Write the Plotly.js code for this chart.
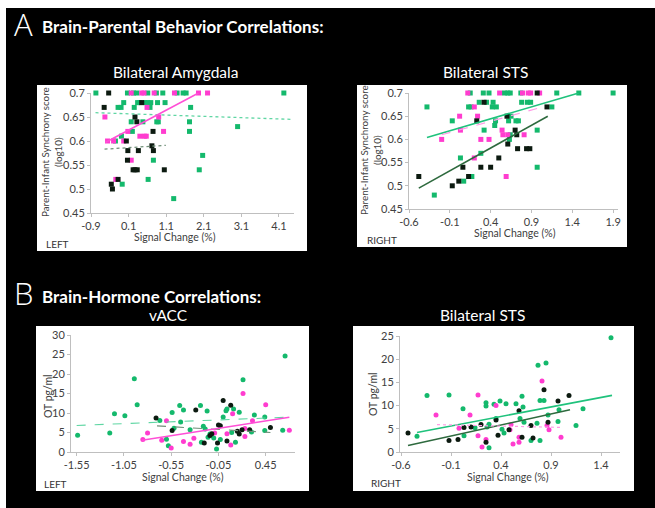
<!DOCTYPE html>
<html><head><meta charset="utf-8">
<script src="https://cdn.plot.ly/plotly-3.0.1.min.js"></script>
<style>html,body{margin:0;padding:0;background:#000}#c{width:655px;height:508px}</style>
</head><body><div id="c"></div>
<script>
// ---------- DATA ----------
// Panel A left: Bilateral Amygdala (x: signal change %, y: log10 synchrony)
const aL_green_x = [-0.77,0.07,0.23,0.32,0.61,0.84,1.01,1.39,1.55,1.63,4.23, -0.03,0.34,0.40,0.54,0.61,0.69,0.87,1.07, -0.18,-0.10,0.25,0.67,1.75, 0.17,0.48,0.85,0.89,1.72, 3.0, 0.20,1.72, -0.09, -0.25, 2.07, 0.76, 1.98, 0.62, -0.07, 1.30];
const aL_green_y = [0.70,0.70,0.70,0.70,0.70,0.70,0.70,0.70,0.70,0.70,0.70, 0.68,0.68,0.68,0.68,0.68,0.68,0.68,0.68, 0.67,0.67,0.67,0.67,0.67, 0.64,0.64,0.64,0.64,0.64, 0.63, 0.62,0.62, 0.61, 0.60, 0.57, 0.56, 0.54, 0.52, 0.51, 0.48];
const aL_mag_x = [0.17,0.45,0.51,0.78,1.32,1.96,2.20, 0.59, -0.53,0.90, 0.08,1.03, 0.40,0.52,0.57, -0.46,-0.30,-0.03, 0.17, -0.24];
const aL_mag_y = [0.70,0.70,0.70,0.70,0.70,0.70,0.70, 0.67, 0.65,0.65, 0.62,0.62, 0.61,0.61,0.61, 0.60,0.60,0.60, 0.56, 0.52];
const aL_blk_x = [-0.43, 0.45, -0.55, 0.27, 0.32, 0.75, 0.04, 0.72, 0.08,0.36,0.76, 0.07, 0.22,0.27,0.33,1.05, -0.18, -0.36, -0.33];
const aL_blk_y = [0.70, 0.68, 0.67, 0.65, 0.64, 0.62, 0.60, 0.59, 0.58,0.58,0.58, 0.56, 0.54,0.54,0.54,0.54, 0.52, 0.51, 0.50];
const aL_trend_green_x = [-0.78, 4.48], aL_trend_green_y = [0.659, 0.645];
const aL_trend_blk_x = [-0.54, 1.09], aL_trend_blk_y = [0.583, 0.591];
const aL_trend_mag_x = [-0.52, 1.96], aL_trend_mag_y = [0.597, 0.700];

// Panel A right: Bilateral STS
const aR_green_x = [0.15,0.31,0.38,0.57,0.61,0.64,0.77,1.21,1.48,1.90, 0.26,0.35,0.43,0.78,0.85,0.89, -0.38,0.13,0.16,0.42,0.47,1.15, 0.65, -0.07,0.46,0.62,0.71,0.74, 0.45, 0.32,0.97, 0.64, 0.63, 0.28, 0.03, 0.97, 0.17, 0.07, -0.29];
const aR_green_y = [0.70,0.70,0.70,0.70,0.70,0.70,0.70,0.70,0.70,0.70, 0.68,0.68,0.68,0.68,0.68,0.68, 0.67,0.67,0.67,0.67,0.67,0.67, 0.65, 0.64,0.64,0.64,0.64,0.64, 0.63, 0.62,0.62, 0.61, 0.60, 0.57, 0.56, 0.54, 0.52, 0.51, 0.48];
const aR_mag_x = [0.12,0.51,0.79,0.86,0.89,1.00, 0.20, 0.02,0.24, 0.03,0.54, 0.55,0.61,0.81, -0.20,0.28,0.38, 0.20, 0.59];
const aR_mag_y = [0.70,0.70,0.70,0.70,0.70,0.70, 0.67, 0.65,0.65, 0.62,0.62, 0.61,0.61,0.61, 0.60,0.60,0.60, 0.56, 0.52];
const aR_blk_x = [0.97, 0.32, 1.09, 0.60, 0.23, 0.70, 0.72, 0.61, 0.73,0.84,0.88, 0.50, 0.06,0.28,0.40, -0.48,0.13, 0.01, -0.07];
const aR_blk_y = [0.70, 0.68, 0.67, 0.65, 0.64, 0.62, 0.61, 0.59, 0.58,0.58,0.58, 0.56, 0.54,0.54,0.54, 0.52,0.52, 0.51, 0.50];
const aR_trend_green_x = [-0.38, 1.48], aR_trend_green_y = [0.604, 0.700];
const aR_trend_mag_x = [-0.20, 1.02], aR_trend_mag_y = [0.610, 0.669];
const aR_trend_blk_x = [-0.48, 1.10], aR_trend_blk_y = [0.495, 0.650];

// Panel B left: vACC (y: OT pg/ml)
const bL_green_x = [-1.54,-1.20,-1.15,-1.04,-0.94,-0.91,-0.67,-0.60,-0.58,-0.54,-0.52,-0.46,-0.45,-0.42,-0.35,-0.24,-0.23,-0.21,-0.19,-0.17,-0.16,-0.14,-0.10,-0.07,-0.03,0.00,0.03,0.04,0.09,0.11,0.13,0.17,0.21,0.30,0.33,0.44,0.44,0.655,0.63];
const bL_green_y = [4.3,4.9,9.8,9.3,18.8,12.1,8.1,3.3,1.6,10.1,6.1,11.9,7.7,10.8,5.7,11.9,2.5,6.6,5.9,10.5,3.8,4.6,3.6,0.8,3.2,9.0,10.6,11.0,5.0,11.0,2.5,10.2,18.5,5.1,9.5,9.0,5.5,24.6,5.6];
const bL_mag_x = [-0.85,-0.80,-0.65,-0.60,-0.55,-0.42,-0.35,-0.31,-0.09,0.04,0.08,0.10,0.21,0.23,0.23,0.31,0.45,0.70];
const bL_mag_y = [3.2,4.9,3.0,8.0,1.0,2.7,2.0,3.5,4.9,4.7,1.8,9.8,15.0,4.0,6.0,8.0,12.1,5.6];
const bL_blk_x = [-0.71,-0.54,-0.29,-0.20,-0.14,-0.12,-0.06,-0.05,-0.03,0.00,0.04,0.08,0.15,0.17,0.20,0.28,0.50];
const bL_blk_y = [8.7,5.5,10.8,2.3,4.2,4.7,2.3,6.9,6.7,13.2,2.8,12.0,5.3,4.6,5.7,5.7,6.3];
const bL_trend_green_x = [-1.55, 0.66], bL_trend_green_y = [6.8, 8.9];
const bL_trend_blk_x = [-0.70, 0.50], bL_trend_blk_y = [6.7, 5.0];
const bL_trend_mag_x = [-0.86, 0.70], bL_trend_mag_y = [3.0, 8.9];

// Panel B right: Bilateral STS
const bR_green_x = [-0.44,-0.34,-0.12,0.02,0.03,0.14,0.25,0.25,0.28,0.28,0.33,0.35,0.26,0.39,0.41,0.43,0.45,0.55,0.59,0.61,0.62,0.63,0.70,0.76,0.77,0.79,0.79,0.83,0.85,0.87,0.97,0.98,1.15,1.22,1.50];
const bR_green_y = [3.4,12.2,12.3,9.3,3.5,5.2,10.6,9.9,6.0,0.9,10.3,7.2,5.4,11.0,4.9,4.1,10.4,10.4,7.2,12.0,9.7,6.4,2.5,6.2,18.7,11.1,2.5,11.1,19.2,8.0,6.6,9.1,5.7,9.3,24.6];
const bR_mag_x = [-0.25,-0.02,0.09,0.17,0.17,0.21,0.25,0.35,0.49,0.50,0.52,0.58,0.58,0.81,0.86,0.88,1.00];
const bR_mag_y = [8.0,5.1,8.0,12.3,3.5,1.1,2.7,10.0,4.8,5.9,1.7,3.2,2.1,15.3,5.7,4.8,3.2];
const bR_blk_x = [-0.53,-0.12,-0.03,0.03,0.10,0.20,0.25,0.35,0.37,0.48,0.58,0.61,0.70,0.72,0.83,0.87,0.97,1.08];
const bR_blk_y = [4.1,2.5,2.7,5.3,5.4,5.9,2.1,6.9,3.6,4.8,8.9,3.2,5.7,3.0,13.4,6.4,11.0,12.2];
const bR_trend_green_x = [-0.44, 1.51], bR_trend_green_y = [4.2, 12.2];
const bR_trend_blk_x = [-0.53, 1.09], bR_trend_blk_y = [1.4, 9.1];
const bR_trend_mag_x = [-0.24, 0.99], bR_trend_mag_y = [5.9, 5.3];

// Tick labels
const aL_xticks = [-0.9, 0.1, 1.1, 2.1, 3.1, 4.1];
const aR_xticks = [-0.6, -0.1, 0.4, 0.9, 1.4, 1.9];
const aY_ticks = [0.45, 0.5, 0.55, 0.6, 0.65, 0.7];
const aY_ticktext = ['0.45', '0.5', '0.55', '0.6', '0.65', '0.7'];
const bL_xticks = [-1.55, -1.05, -0.55, -0.05, 0.45];
const bR_xticks = [-0.6, -0.1, 0.4, 0.9, 1.4];
const bL_yticks = [0, 5, 10, 15, 20, 25, 30];
const bR_yticks = [0, 5, 10, 15, 20, 25];

// ---------- STYLE ----------
const W = 655, H = 508;
const px = x => x / W, py = y => 1 - y / H;
const GREEN = '#14b96c', MAG = '#ff3ccf', BLK = '#0c1a10';
const TGREEN = '#1fc27c', TDARK = '#2e6a3e', TMAG = '#ff4fd6', TGREEN_L = '#5fd6a3', TDARK_L = '#6f8f78';
const FONT = 'Lato, "Open Sans", sans-serif';

function pts(x, y, color, sym, size, xa, ya) {
  return {x: x, y: y, type: 'scatter', mode: 'markers', xaxis: xa, yaxis: ya, cliponaxis: false,
    marker: {color: color, symbol: sym, size: size, line: {width: 0}}, hoverinfo: 'skip'};
}
function line(x, y, color, dash, width, xa, ya) {
  return {x: x, y: y, type: 'scatter', mode: 'lines', xaxis: xa, yaxis: ya, cliponaxis: false,
    line: {color: color, dash: dash, width: width}, hoverinfo: 'skip'};
}

const traces = [
  pts(aL_green_x, aL_green_y, GREEN, 'square', 5, 'x', 'y'),
  pts(aL_mag_x, aL_mag_y, MAG, 'square', 5, 'x', 'y'),
  pts(aL_blk_x, aL_blk_y, BLK, 'square', 5, 'x', 'y'),
  line(aL_trend_green_x, aL_trend_green_y, TGREEN_L, 'dot', 1.3, 'x', 'y'),
  line(aL_trend_blk_x, aL_trend_blk_y, TDARK_L, 'dot', 1.3, 'x', 'y'),
  line(aL_trend_mag_x, aL_trend_mag_y, TMAG, 'solid', 1.6, 'x', 'y'),

  pts(aR_green_x, aR_green_y, GREEN, 'square', 5, 'x2', 'y2'),
  pts(aR_mag_x, aR_mag_y, MAG, 'square', 5, 'x2', 'y2'),
  pts(aR_blk_x, aR_blk_y, BLK, 'square', 5, 'x2', 'y2'),
  line(aR_trend_green_x, aR_trend_green_y, TGREEN, 'solid', 1.6, 'x2', 'y2'),
  line(aR_trend_mag_x, aR_trend_mag_y, '#ff9be6', 'dash', 1.2, 'x2', 'y2'),
  line(aR_trend_blk_x, aR_trend_blk_y, TDARK, 'solid', 1.6, 'x2', 'y2'),

  pts(bL_green_x, bL_green_y, GREEN, 'circle', 5, 'x3', 'y3'),
  pts(bL_mag_x, bL_mag_y, MAG, 'circle', 5, 'x3', 'y3'),
  pts(bL_blk_x, bL_blk_y, BLK, 'circle', 5, 'x3', 'y3'),
  line(bL_trend_green_x, bL_trend_green_y, TGREEN_L, 'dash', 1.1, 'x3', 'y3'),
  line(bL_trend_blk_x, bL_trend_blk_y, TDARK_L, 'dash', 1.1, 'x3', 'y3'),
  line(bL_trend_mag_x, bL_trend_mag_y, TMAG, 'solid', 1.6, 'x3', 'y3'),

  pts(bR_green_x, bR_green_y, GREEN, 'circle', 5, 'x4', 'y4'),
  pts(bR_mag_x, bR_mag_y, MAG, 'circle', 5, 'x4', 'y4'),
  pts(bR_blk_x, bR_blk_y, BLK, 'circle', 5, 'x4', 'y4'),
  line(bR_trend_green_x, bR_trend_green_y, TGREEN, 'solid', 1.6, 'x4', 'y4'),
  line(bR_trend_blk_x, bR_trend_blk_y, TDARK, 'solid', 1.6, 'x4', 'y4'),
  line(bR_trend_mag_x, bR_trend_mag_y, '#ff9be6', 'dot', 1.2, 'x4', 'y4')
];

const axBase = {showline: true, linecolor: '#bfbfbf', linewidth: 1, ticks: 'outside', ticklen: 3,
  tickcolor: '#bfbfbf', showgrid: false, zeroline: false, fixedrange: true,
  tickfont: {family: FONT, size: 11, color: '#404040'}};
function ax(extra) { return Object.assign({}, axBase, extra); }

const layout = {
  width: W, height: H, margin: {l: 0, r: 0, t: 0, b: 0},
  paper_bgcolor: '#000000', plot_bgcolor: '#ffffff', showlegend: false,
  xaxis: ax({domain: [px(91), px(294)], range: [-0.9, 4.5], anchor: 'y', tickvals: aL_xticks, ticktext: aL_xticks.map(String)}),
  yaxis: ax({domain: [py(213), py(93)], range: [0.45, 0.7], anchor: 'x', tickvals: aY_ticks, ticktext: aY_ticktext}),
  xaxis2: ax({domain: [px(409), px(618)], range: [-0.6, 1.96], anchor: 'y2', tickvals: aR_xticks, ticktext: aR_xticks.map(String)}),
  yaxis2: ax({domain: [py(209), py(93)], range: [0.45, 0.7], anchor: 'x2', tickvals: aY_ticks, ticktext: aY_ticktext}),
  xaxis3: ax({domain: [px(71), px(295)], range: [-1.61, 0.76], anchor: 'y3', tickvals: bL_xticks, ticktext: bL_xticks.map(String)}),
  yaxis3: ax({domain: [py(452), py(335)], range: [0, 30], anchor: 'x3', tickvals: bL_yticks}),
  xaxis4: ax({domain: [px(400), px(620)], range: [-0.61, 1.59], anchor: 'y4', tickvals: bR_xticks, ticktext: bR_xticks.map(String)}),
  yaxis4: ax({domain: [py(452), py(336)], range: [0, 25], anchor: 'x4', tickvals: bR_yticks}),
  shapes: [
    {type: 'rect', xref: 'paper', yref: 'paper', x0: 0, x1: 1, y0: py(8), y1: 1, fillcolor: '#ffffff', line: {width: 0}, layer: 'below'},
    {type: 'rect', xref: 'paper', yref: 'paper', x0: 0, x1: px(6), y0: 0, y1: 1, fillcolor: '#ffffff', line: {width: 0}, layer: 'below'},
    {type: 'rect', xref: 'paper', yref: 'paper', x0: px(37), x1: px(307), y0: py(251), y1: py(85), fillcolor: '#ffffff', line: {width: 0}, layer: 'below'},
    {type: 'rect', xref: 'paper', yref: 'paper', x0: px(357), x1: px(627), y0: py(247), y1: py(85), fillcolor: '#ffffff', line: {width: 0}, layer: 'below'},
    {type: 'rect', xref: 'paper', yref: 'paper', x0: px(36), x1: px(309), y0: py(491), y1: py(326), fillcolor: '#ffffff', line: {width: 0}, layer: 'below'},
    {type: 'rect', xref: 'paper', yref: 'paper', x0: px(353), x1: px(634), y0: py(491), y1: py(326), fillcolor: '#ffffff', line: {width: 0}, layer: 'below'}
  ],
  annotations: []
};

function txt(t, x, y, size, color, opts) {
  return Object.assign({text: t, x: px(x), y: py(y), xref: 'paper', yref: 'paper', showarrow: false,
    font: {family: FONT, size: size, color: color}, xanchor: 'center', yanchor: 'middle'}, opts || {});
}
const G = '#404040';
const bigLetter = {xanchor: 'left', font: {family: '"Open Sans", sans-serif', size: 31, color: '#fff', weight: 300}};
layout.annotations.push(
  txt('A', 12, 24, 31, '#ffffff', bigLetter),
  txt('<b>Brain-Parental Behavior Correlations:</b>', 40, 26, 17, '#ffffff', {xanchor: 'left'}),
  txt('Bilateral Amygdala', 175, 72, 15.5, '#ffffff'),
  txt('Bilateral STS', 485, 72, 15.5, '#ffffff'),
  txt('B', 12, 293, 31, '#ffffff', bigLetter),
  txt('<b>Brain-Hormone Correlations:</b>', 40, 296, 17, '#ffffff', {xanchor: 'left'}),
  txt('vACC', 168, 315, 15.5, '#ffffff'),
  txt('Bilateral STS', 482, 315, 15.5, '#ffffff'),
  txt('Signal Change (%)', 175, 237, 10.5, G),
  txt('Signal Change (%)', 515, 233, 10.5, G),
  txt('Signal Change (%)', 183, 477, 10.5, G),
  txt('Signal Change (%)', 508, 477, 10.5, G),
  txt('Parent-Infant Synchrony score<br>(log10)', 51, 152, 9.8, G, {textangle: -90}),
  txt('Parent-Infant Synchrony score<br>(log10)', 371, 150, 9.8, G, {textangle: -90}),
  txt('OT pg/ml', 48, 396, 10.5, G, {textangle: -90}),
  txt('OT pg/ml', 373, 394, 10.5, G, {textangle: -90}),
  txt('LEFT', 44, 244, 10, '#333333', {xanchor: 'left'}),
  txt('RIGHT', 365, 240, 10, '#333333', {xanchor: 'left'}),
  txt('LEFT', 42, 484, 10, '#333333', {xanchor: 'left'}),
  txt('RIGHT', 369, 483, 10, '#333333', {xanchor: 'left'})
);

Plotly.newPlot('c', traces, layout, {staticPlot: true, displayModeBar: false});
</script></body></html>
